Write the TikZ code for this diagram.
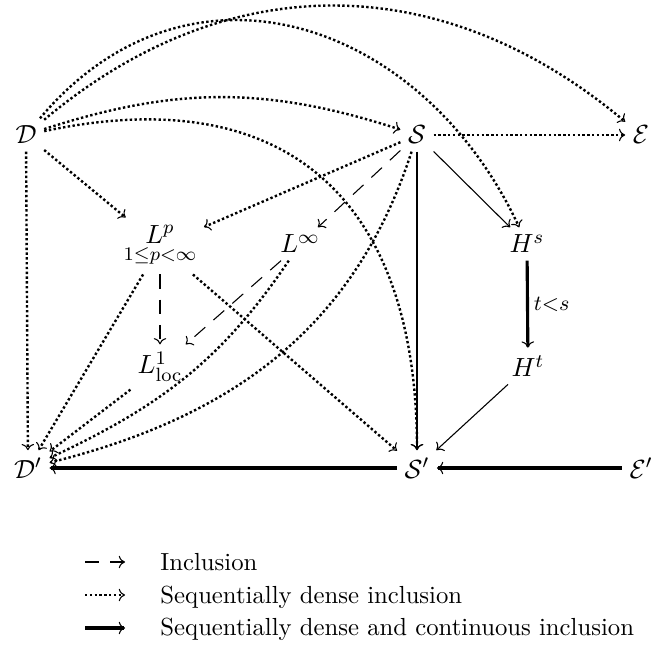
\documentclass[tikz,border=0pt]{standalone}
\usepackage{amsmath}
\usetikzlibrary{arrows.meta}
\begin{document}
\begin{tikzpicture}[x=0.4167pt,y=0.4167pt,
  arr/.style={-{Computer Modern Rightarrow[length=2.6pt,width=5.2pt,line width=0.45pt]}},
  dotarr/.style={arr, line width=1pt, dash pattern=on 1pt off 1pt},
  dasharr/.style={arr, line width=0.45pt, dash pattern=on 6pt off 4.5pt},
  thinarr/.style={arr, line width=0.45pt},
  medarr/.style={arr, line width=0.8pt},
  thickarr/.style={arr, line width=1.3pt},
  obj/.style={inner sep=3pt, font=\fontsize{11}{13}\selectfont},
  lbl/.style={inner sep=2pt, font=\fontsize{9}{11}\selectfont},
  legtext/.style={anchor=base west, inner sep=0pt, font=\fontsize{10.3}{12}\selectfont}]
\useasboundingbox (0,0) rectangle (655,651);
% objects
\node[obj] (D) at (26,516) {$\mathcal{D}$};
\node[obj] (S) at (417,516) {$\mathcal{S}$};
\node[obj] (E) at (641,516) {$\mathcal{E}$};
\node[obj] (Lp) at (160,405) {$\underset{1\le p<\infty}{L^p}$};
\node[obj] (Linf) at (300,407) {$L^\infty$};
\node[obj] (Hs) at (527,407) {$H^s$};
\node[obj] (L1) at (160,284) {$L^1_{\mathrm{loc}}$};
\node[obj] (Ht) at (528,285) {$H^t$};
\node[obj] (Dp) at (28,183) {$\mathcal{D}'$};
\node[obj] (Sp) at (417,183) {$\mathcal{S}'$};
\node[obj] (Ep) at (641,183) {$\mathcal{E}'$};
% dotted arrows
\draw[dotarr] (D) to[out=40,in=140,looseness=1.05] (E);
\draw[dotarr] (D) to[out=50,in=115,looseness=1.2] (Hs);
\draw[dotarr] (D) to[out=18,in=162] (S);
\draw[dotarr] (D) to[out=12,in=90,looseness=1.3] (Sp);
\draw[dotarr] (D) -- (Lp);
\draw[dotarr] (D) -- (Dp);
\draw[dotarr] (S) -- (E);
\draw[dotarr] (S) -- (Lp);
\draw[dotarr] (S) to[out=252,in=14] (Dp);
\draw[dotarr] (Linf) to[out=236,in=25] (Dp);
\draw[dotarr] (Lp) -- (Dp);
\draw[dotarr] (Lp) -- (Sp);
\draw[dotarr] (L1) -- (Dp);
% dashed arrows
\draw[dasharr] (Lp) -- (L1);
\draw[dasharr] (S) -- (Linf);
\draw[dasharr] (Linf) -- (L1);
% solid arrows
\draw[thinarr] (S) -- (Hs);
\draw[thinarr] (Ht) -- (Sp);
\draw[medarr] (S) -- (Sp);
\draw[thickarr] (Hs) -- node[lbl, right] (lab) {$t{<}s$} (Ht);
\draw[thickarr] (Ep) -- (Sp);
\draw[thickarr] (Sp) -- (Dp);
% legend
\coordinate (a1) at (85,89);  \coordinate (b1) at (125,89);
\coordinate (a2) at (85,56);  \coordinate (b2) at (125,56);
\coordinate (a3) at (85,23);  \coordinate (b3) at (125,23);
\draw[dasharr] (a1) -- (b1);
\draw[dotarr] (a2) -- (b2);
\draw[thickarr] (a3) -- (b3);
\node[legtext] (t1) at (160,81) {Inclusion};
\node[legtext] (t2) at (160,48) {Sequentially dense inclusion};
\node[legtext] (t3) at (160,16) {Sequentially dense and continuous inclusion};
\end{tikzpicture}
\end{document}
